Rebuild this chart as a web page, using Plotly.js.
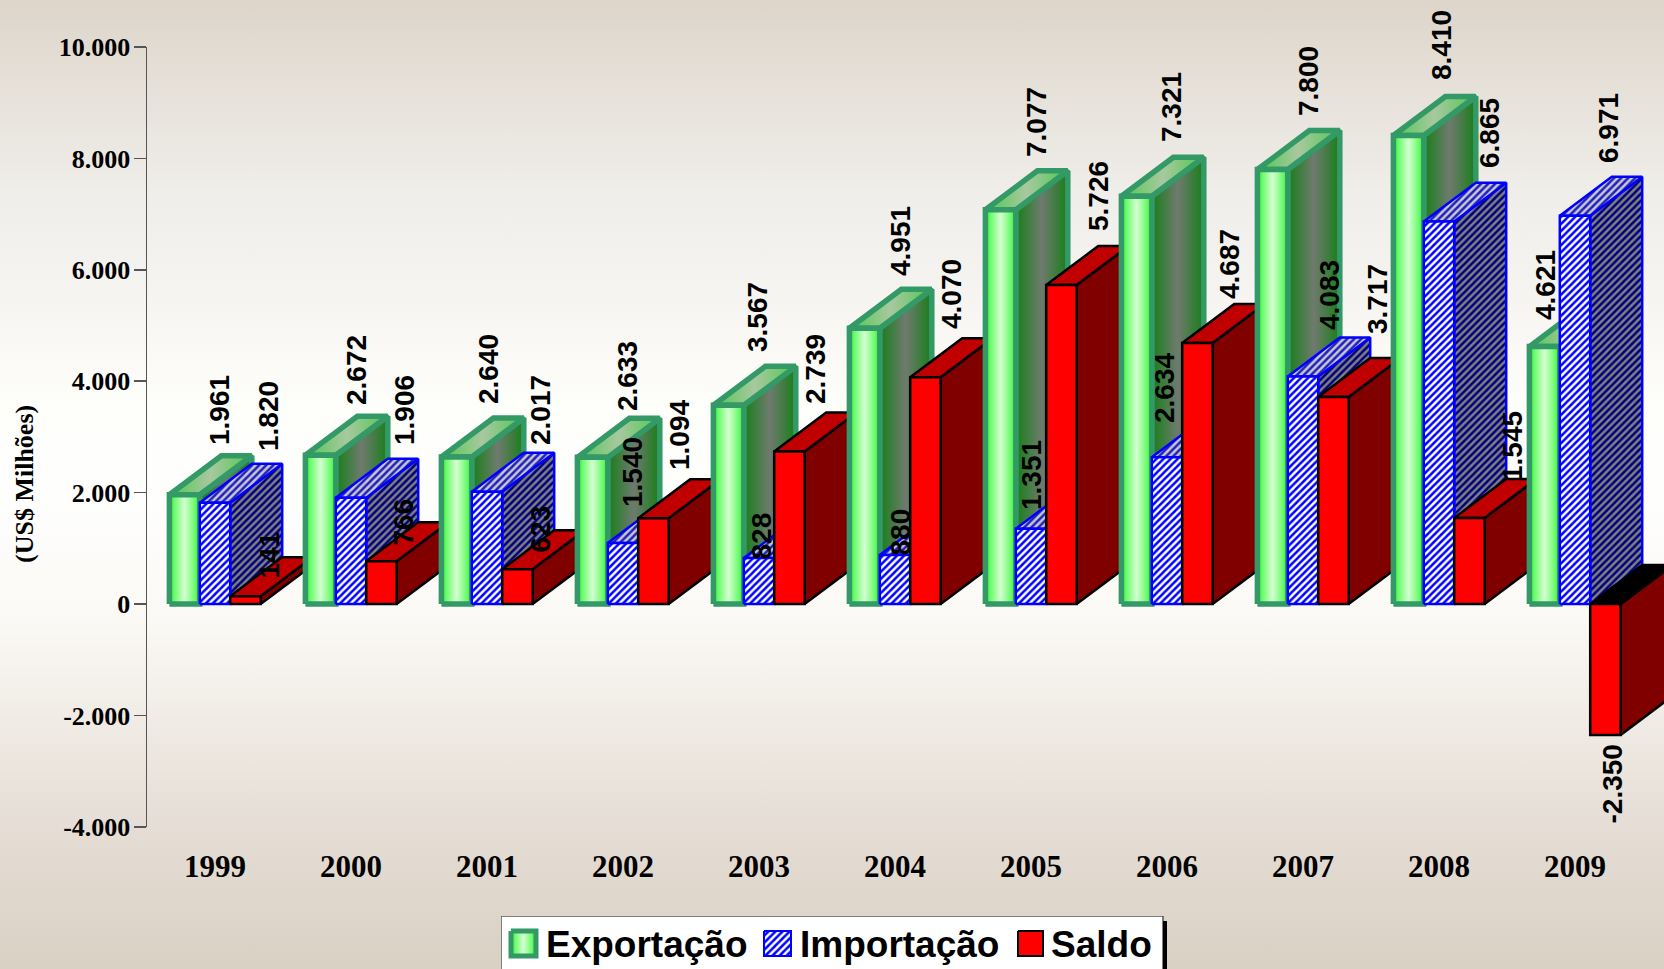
<!DOCTYPE html>
<html><head><meta charset="utf-8">
<script src="https://cdn.plot.ly/plotly-3.0.1.min.js"></script>
<style>
html,body{margin:0;padding:0;width:1664px;height:969px;overflow:hidden;
background:linear-gradient(to bottom,#ddd5ca 0%,#f0eeea 20%,#f5f3ef 29%,#fefefb 42%,#fefefd 52%,#fbf9f5 64%,#eee9e2 76%,#e2d9d0 89%,#dad1c5 100%);}
#chart{width:1664px;height:969px;}
</style></head><body><div id="chart"></div>
<script>
const years=['1999','2000','2001','2002','2003','2004','2005','2006','2007','2008','2009'];
const exportacao=[1961,2672,2640,2633,3567,4951,7077,7321,7800,8410,4621];
const importacao=[1820,1906,2017,1094,828,880,1351,2634,4083,6865,6971];
const saldo=[141,766,623,1540,2739,4070,5726,4687,3717,1545,-2350];
const yTicks=[-4000,-2000,0,2000,4000,6000,8000,10000];

// label placement, measured in page pixels (centre x, bottom y)
const expLabelPos=[[219,446],[356,406],[488,405],[627,412],[757,353],[900,277],[1037,158],[1172,143],[1309,117],[1442,81],[1545,321]];
const impLabelPos=[[268,452],[404,446],[540,446],[679,471],[761,561],[900,557],[1031,511],[1164,424],[1329,331],[1490,169],[1609,164]];
const salLabelPos=[[269,580],[403,547],[540,554],[632,508],[815,405],[951,330],[1099,232],[1229,300],[1377,335],[1512,482],[1612,825]];

// geometry
const W=1664,H=969,PL=147,PT=47,PB=827,X0=215,GROUP=136,ZERO=604,PX2000=111.4;
const px2x=p=>(p-X0)/GROUP, py2y=p=>(ZERO-p)/PX2000*2000;
const barW=30.4/GROUP, depthX=52/GROUP, depthY=700;
const offs=[-1.5*barW,-0.5*barW,0.5*barW];

const styles=[
 {line:{color:'#339966',width:5.5},
  front:{fillgradient:{type:'horizontal',colorscale:[[0,'#30f030'],[0.18,'#70fb70'],[0.5,'#d4ffd0'],[0.82,'#70fb70'],[1,'#30f030']]}},
  side:{fillgradient:{type:'horizontal',colorscale:[[0,'#177f17'],[0.5,'#6f7a6f'],[1,'#177f17']]}},
  top:{fillgradient:{type:'horizontal',colorscale:[[0,'#50c850'],[0.5,'#a8c8a0'],[1,'#50c850']]}}},
 {line:{color:'#0000ff',width:2.5},
  front:{fillcolor:'#ffffff',fillpattern:{shape:'/',fgcolor:'#0000ff',bgcolor:'#ffffff',size:5,solidity:0.5}},
  side:{fillcolor:'#808080',fillpattern:{shape:'/',fgcolor:'#00007f',bgcolor:'#808080',size:5,solidity:0.5}},
  top:{fillcolor:'#bfbfdf',fillpattern:{shape:'/',fgcolor:'#2020c0',bgcolor:'#c8c8cc',size:5,solidity:0.5}}},
 {line:{color:'#000000',width:2.5},
  front:{fillcolor:'#ff0000'},
  side:{fillcolor:'#800000'},
  top:{fillcolor:'#c00000'}}
];
const names=['Exportação','Importação','Saldo'];
const series=[exportacao,importacao,saldo];

function poly(xs,ys,style,line,name,extra){
  return Object.assign({type:'scatter',mode:'lines',x:xs,y:ys,fill:'toself',line:Object.assign({},line),
    name:name,showlegend:false,hoverinfo:'skip'},style,extra||{});
}
const traces=[];
years.forEach((yr,i)=>{
  series.forEach((vals,s)=>{
    const v=vals[i], st=styles[s], x1=i+offs[s], x2=x1+barW, lvl=Math.max(v,0);
    traces.push(poly([x2,x2+depthX,x2+depthX,x2,x2],[0,depthY,v+depthY,v,0],st.side,st.line,names[s]+' '+yr+' lateral'));
    traces.push(poly([x1,x2,x2+depthX,x1+depthX,x1],[lvl,lvl,lvl+depthY,lvl+depthY,lvl],
      v<0?{fillcolor:'#000000'}:st.top,st.line,names[s]+' '+yr+' topo'));
    traces.push(poly([x1,x2,x2,x1,x1],[0,0,v,v,0],st.front,st.line,names[s]+' '+yr));
  });
});

// legend, drawn on a small pixel-scaled subplot
const LEG={l:501,r:1170,t:916,b:969};
const lg={xaxis:'x2',yaxis:'y2'};
traces.push(poly([501,1163,1163,501,501],[916,916,975,975,916],{fillcolor:'#ffffff'},{color:'#555555',width:1.5},'legenda',lg));
traces.push({type:'scatter',mode:'lines',x:[1165,1165],y:[921,975],line:{color:'#000000',width:4},hoverinfo:'skip',showlegend:false,xaxis:'x2',yaxis:'y2'});
[[511,536],[764,791],[1018,1043]].forEach((b,s)=>{
  const st=styles[s];
  const lw=s===0?{color:st.line.color,width:5}:{color:st.line.color,width:2};
  traces.push(poly([b[0],b[1],b[1],b[0],b[0]],[931,931,956,956,931],st.front,lw,names[s],lg));
});

// annotations
const ann=[];
const fmt=v=>{const a=Math.abs(v).toString().replace(/\B(?=(\d{3})+$)/g,'.');return (v<0?'-':'')+a;};
[[exportacao,expLabelPos],[importacao,impLabelPos],[saldo,salLabelPos]].forEach(([vals,pos])=>{
  vals.forEach((v,i)=>{
    ann.push({x:px2x(pos[i][0]),y:py2y(pos[i][1]),xref:'x',yref:'y',text:fmt(v),textangle:-90,showarrow:false,
      xanchor:'center',yanchor:'bottom',borderpad:0,font:{family:'"Liberation Sans",Arial,sans-serif',size:28,color:'#000',weight:700}});
  });
});
ann.push({x:25/W,y:1-484/H,xref:'paper',yref:'paper',text:'(US$ Milhões)',textangle:-90,showarrow:false,
  xanchor:'center',yanchor:'middle',font:{family:'"Liberation Serif",serif',size:26,color:'#000',weight:700}});
[[545,names[0]],[799,names[1]],[1050,names[2]]].forEach(([x,t])=>{
  ann.push({x:x,y:944,xref:'x2',yref:'y2',text:t,showarrow:false,xanchor:'left',yanchor:'middle',borderpad:0,
    font:{family:'"Liberation Sans",Arial,sans-serif',size:37,color:'#000',weight:700}});
});

const layout={
  width:W,height:H,margin:{l:0,r:0,t:0,b:0},paper_bgcolor:'rgba(0,0,0,0)',plot_bgcolor:'rgba(0,0,0,0)',
  showlegend:false,hovermode:false,
  xaxis:{domain:[PL/W,1],range:[px2x(PL),px2x(W)],tickmode:'array',tickvals:years.map((y,i)=>i),ticktext:years,
    ticks:'outside',ticklen:12,tickcolor:'rgba(0,0,0,0)',showgrid:false,zeroline:false,showline:false,anchor:'y',
    tickfont:{family:'"Liberation Serif",serif',size:31,color:'#000',weight:700}},
  yaxis:{domain:[1-PB/H,1-PT/H],range:[py2y(PB),py2y(PT)],tickmode:'array',tickvals:yTicks,ticktext:yTicks.map(fmt),
    ticks:'outside',ticklen:12,tickwidth:1.5,tickcolor:'#555555',ticklabelstandoff:-2,showgrid:false,zeroline:false,showline:true,linecolor:'#555555',linewidth:1.5,anchor:'x',
    tickfont:{family:'"Liberation Serif",serif',size:26,color:'#000',weight:700}},
  xaxis2:{domain:[LEG.l/W,LEG.r/W],range:[LEG.l,LEG.r],visible:false,anchor:'y2',fixedrange:true},
  yaxis2:{domain:[0,(H-LEG.t)/H],range:[LEG.b,LEG.t],visible:false,anchor:'x2',fixedrange:true},
  annotations:ann
};
Plotly.newPlot('chart',traces,layout,{displayModeBar:false,staticPlot:true});
</script></body></html>
